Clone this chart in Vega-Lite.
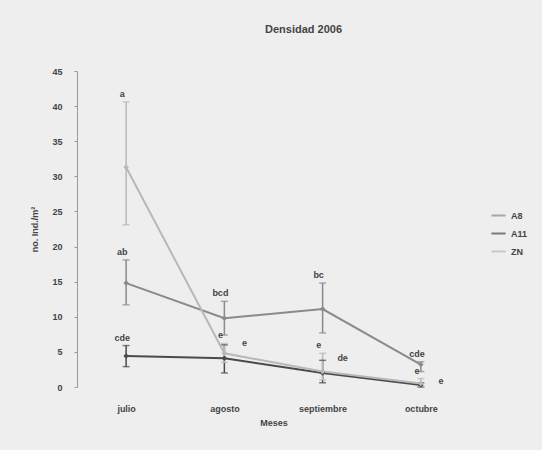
{
  "$schema": "https://vega.github.io/schema/vega-lite/v6.json",
  "width": 393,
  "height": 316,
  "autosize": "none",
  "padding": {"left": 77, "top": 71, "right": 72, "bottom": 63},
  "background": "#eeeeee",
  "config": {
    "view": {"stroke": null},
    "font": "Liberation Sans",
    "axis": {"labelFont": "Liberation Sans", "titleFont": "Liberation Sans", "labelFontWeight": "bold", "titleFontWeight": "bold", "labelColor": "#444", "titleColor": "#444", "grid": false},
    "axisY": {"values": [0,5,10,15,20,25,30,35,40,45], "labelOverlap": false, "labelFontSize": 9, "titleFontSize": 9, "domainColor": "#999", "tickColor": "#999", "tickSize": 3, "labelPadding": 12, "titlePadding": 12}
  },
  "title": {"text": "Densidad 2006", "fontSize": 11, "fontWeight": "bold", "color": "#444", "dx": 30, "offset": 32, "font": "Liberation Sans"},
  "data": {"values": [
    {"mes": "julio", "serie": "A8", "valor": 14.8, "lo": 11.7, "hi": 18.1, "letra": "ab"},
    {"mes": "agosto", "serie": "A8", "valor": 9.8, "lo": 7.4, "hi": 12.2, "letra": "bcd"},
    {"mes": "septiembre", "serie": "A8", "valor": 11.1, "lo": 7.7, "hi": 14.8, "letra": "bc"},
    {"mes": "octubre", "serie": "A8", "valor": 3.2, "lo": 2.2, "hi": 3.6, "letra": "cde"},
    {"mes": "julio", "serie": "A11", "valor": 4.4, "lo": 2.9, "hi": 5.9, "letra": "cde"},
    {"mes": "agosto", "serie": "A11", "valor": 4.1, "lo": 2.0, "hi": 6.0, "letra": "e"},
    {"mes": "septiembre", "serie": "A11", "valor": 2.0, "lo": 0.6, "hi": 3.8, "letra": "de"},
    {"mes": "octubre", "serie": "A11", "valor": 0.3, "lo": 0.0, "hi": 0.6, "letra": "e"},
    {"mes": "julio", "serie": "ZN", "valor": 31.3, "lo": 23.1, "hi": 40.6, "letra": "a"},
    {"mes": "agosto", "serie": "ZN", "valor": 4.8, "lo": 3.5, "hi": 6.2, "letra": "e"},
    {"mes": "septiembre", "serie": "ZN", "valor": 2.2, "lo": 1.0, "hi": 4.8, "letra": "e"},
    {"mes": "octubre", "serie": "ZN", "valor": 0.5, "lo": 0.1, "hi": 1.2, "letra": "e"}
  ]},
  "encoding": {
    "x": {"field": "mes", "type": "nominal", "sort": ["julio", "agosto", "septiembre", "octubre"], "scale": {"type": "point", "padding": 0.5},
      "axis": {"title": "Meses", "labelAngle": 0, "labelFontSize": 9, "titleFontSize": 9, "domain": false, "ticks": false, "labelPadding": 17, "titlePadding": 5}},
    "color": {"field": "serie", "type": "nominal", "scale": {"domain": ["A8", "A11", "ZN"], "range": ["#8a8a8a", "#4a4a4a", "#b8b8b8"]},
      "legend": {"title": null, "orient": "none", "legendX": 413, "legendY": 136, "labelFontSize": 9, "labelFontWeight": "bold", "labelColor": "#444", "symbolType": "stroke", "symbolStrokeWidth": 2, "symbolSize": 200, "rowPadding": 4}}
  },
  "layer": [
    {"mark": {"type": "rule", "strokeWidth": 1.5},
     "encoding": {"y": {"field": "lo", "type": "quantitative", "scale": {"domain": [0, 45]}, "title": "no. Ind./m²"}, "y2": {"field": "hi"}}},
    {"mark": {"type": "tick", "size": 7, "thickness": 1.5},
     "encoding": {"y": {"field": "lo", "type": "quantitative", "title": "no. Ind./m²"}}},
    {"mark": {"type": "tick", "size": 7, "thickness": 1.5},
     "encoding": {"y": {"field": "hi", "type": "quantitative", "title": "no. Ind./m²"}}},
    {"mark": {"type": "line", "strokeWidth": 2, "point": {"shape": "diamond", "size": 30, "filled": true}},
     "encoding": {"y": {"field": "valor", "type": "quantitative", "title": "no. Ind./m²"}}},
    {"transform": [{"filter": "datum.serie != 'A11' || datum.mes == 'julio'"}],
     "mark": {"type": "text", "dy": -8, "dx": -4, "fontSize": 9, "fontWeight": "bold", "color": "#444"},
     "encoding": {"y": {"field": "hi", "type": "quantitative", "title": "no. Ind./m²"}, "text": {"field": "letra"}, "color": {"value": "#444"}}},
    {"transform": [{"filter": "datum.serie == 'A11' && datum.mes != 'julio'"}],
     "mark": {"type": "text", "dy": -2, "dx": 20, "fontSize": 9, "fontWeight": "bold", "color": "#444"},
     "encoding": {"y": {"field": "hi", "type": "quantitative", "title": "no. Ind./m²"}, "text": {"field": "letra"}, "color": {"value": "#444"}}}
  ]
}
